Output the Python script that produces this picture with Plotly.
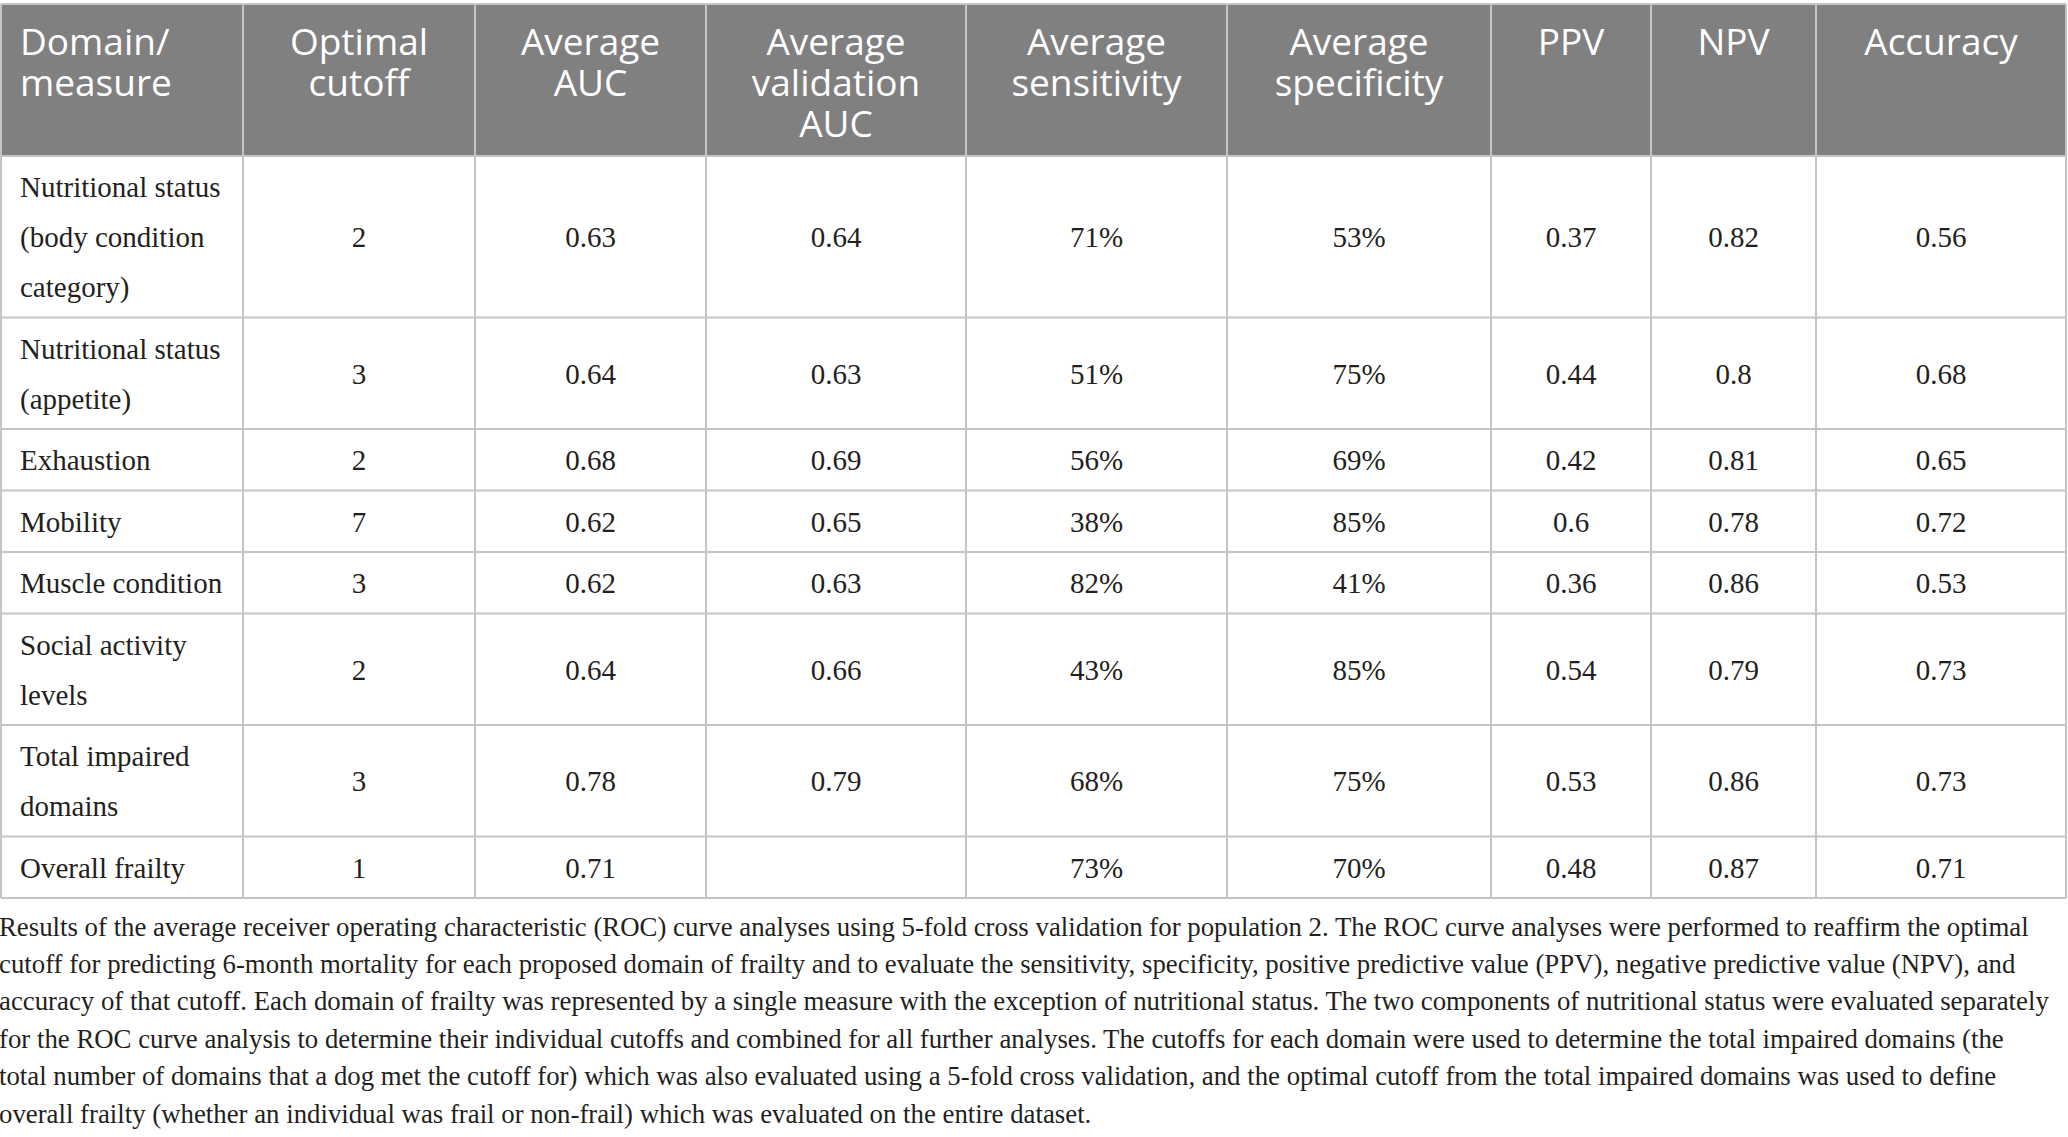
import plotly.graph_objects as go

# ---------------- data ----------------
header_labels = [
    ["Domain/", "measure"],
    ["Optimal", "cutoff"],
    ["Average", "AUC"],
    ["Average", "validation", "AUC"],
    ["Average", "sensitivity"],
    ["Average", "specificity"],
    ["PPV"],
    ["NPV"],
    ["Accuracy"],
]
measures = [
    ["Nutritional status", "(body condition", "category)"],
    ["Nutritional status", "(appetite)"],
    ["Exhaustion"],
    ["Mobility"],
    ["Muscle condition"],
    ["Social activity", "levels"],
    ["Total impaired", "domains"],
    ["Overall frailty"],
]
optimal_cutoff = ["2", "3", "2", "7", "3", "2", "3", "1"]
average_auc = ["0.63", "0.64", "0.68", "0.62", "0.62", "0.64", "0.78", "0.71"]
validation_auc = ["0.64", "0.63", "0.69", "0.65", "0.63", "0.66", "0.79", ""]
sensitivity = ["71%", "51%", "56%", "38%", "82%", "43%", "68%", "73%"]
specificity = ["53%", "75%", "69%", "85%", "41%", "85%", "75%", "70%"]
ppv = ["0.37", "0.44", "0.42", "0.6", "0.36", "0.54", "0.53", "0.48"]
npv = ["0.82", "0.8", "0.81", "0.78", "0.86", "0.79", "0.86", "0.87"]
accuracy = ["0.56", "0.68", "0.65", "0.72", "0.53", "0.73", "0.73", "0.71"]
caption_lines = [
    "Results of the average receiver operating characteristic (ROC) curve analyses using 5-fold cross validation for population 2. The ROC curve analyses were performed to reaffirm the optimal",
    "cutoff for predicting 6-month mortality for each proposed domain of frailty and to evaluate the sensitivity, specificity, positive predictive value (PPV), negative predictive value (NPV), and",
    "accuracy of that cutoff. Each domain of frailty was represented by a single measure with the exception of nutritional status. The two components of nutritional status were evaluated separately",
    "for the ROC curve analysis to determine their individual cutoffs and combined for all further analyses. The cutoffs for each domain were used to determine the total impaired domains (the",
    "total number of domains that a dog met the cutoff for) which was also evaluated using a 5-fold cross validation, and the optimal cutoff from the total impaired domains was used to define",
    "overall frailty (whether an individual was frail or non-frail) which was evaluated on the entire dataset.",
]

# ---------------- layout geometry ----------------
W, H = 2068, 1137
col_edges = [1, 243, 475, 706, 966, 1227, 1491, 1651, 1816, 2066]
table_top = 4
header_h = 152
line_gap = 50
row_pad = 11.5
header_line_gap = 41
header_first = 42
body_shift = 3
caption_first = 929
caption_gap = 37.4

HEADER_BG = "#808080"
GRID = "#c4c4c4"
TEXT = "#231f20"
SERIF = "Liberation Serif"
SANS = "Open Sans"

value_cols = [optimal_cutoff, average_auc, validation_auc, sensitivity,
              specificity, ppv, npv, accuracy]

# row boundaries
row_edges = [table_top, table_top + header_h]
for m in measures:
    row_edges.append(row_edges[-1] + row_pad + line_gap * len(m))
table_bottom = row_edges[-1]

shapes = []
shapes.append(dict(type="rect", xref="x", yref="y", x0=col_edges[0], x1=col_edges[-1],
                   y0=row_edges[0], y1=row_edges[1], fillcolor=HEADER_BG,
                   line=dict(width=0), layer="below"))
for x in col_edges:
    shapes.append(dict(type="line", xref="x", yref="y", x0=x, x1=x, y0=table_top,
                       y1=table_bottom, line=dict(color=GRID, width=2)))
for y in row_edges:
    shapes.append(dict(type="line", xref="x", yref="y", x0=col_edges[0], x1=col_edges[-1],
                       y0=y, y1=y, line=dict(color=GRID, width=2)))

fig = go.Figure()

# header text
hx, hy, ht, hp = [], [], [], []
for j, lines in enumerate(header_labels):
    for i, ln in enumerate(lines):
        if j == 0:
            hx.append(col_edges[0] + 19)
            hp.append("middle right")
        else:
            hx.append((col_edges[j] + col_edges[j + 1]) / 2)
            hp.append("middle center")
        hy.append(table_top + header_first + i * header_line_gap)
        ht.append(ln)
fig.add_trace(go.Scatter(x=hx, y=hy, text=ht, mode="text", textposition=hp,
                         textfont=dict(family=SANS, size=37, color="white", weight=400),
                         hoverinfo="skip", showlegend=False))

# body text
bx, by, bt, bp = [], [], [], []
for r, lines in enumerate(measures):
    yc = (row_edges[r + 1] + row_edges[r + 2]) / 2 + body_shift
    n = len(lines)
    for i, ln in enumerate(lines):
        bx.append(col_edges[0] + 19)
        by.append(yc + (i - (n - 1) / 2) * line_gap)
        bt.append(ln)
        bp.append("middle right")
    for c, col in enumerate(value_cols):
        bx.append((col_edges[c + 1] + col_edges[c + 2]) / 2)
        by.append(yc)
        bt.append(col[r])
        bp.append("middle center")
fig.add_trace(go.Scatter(x=bx, y=by, text=bt, mode="text", textposition=bp,
                         textfont=dict(family=SERIF, size=29, color=TEXT),
                         hoverinfo="skip", showlegend=False))

# caption
cx = [-1] * len(caption_lines)
cy = [caption_first + i * caption_gap for i in range(len(caption_lines))]
fig.add_trace(go.Scatter(x=cx, y=cy, text=caption_lines, mode="text",
                         textposition="middle right",
                         textfont=dict(family=SERIF, size=26.8, color=TEXT),
                         hoverinfo="skip", showlegend=False))

fig.update_layout(
    width=W, height=H,
    margin=dict(l=0, r=0, t=0, b=0),
    paper_bgcolor="white", plot_bgcolor="white",
    xaxis=dict(range=[0, W], visible=False, fixedrange=True),
    yaxis=dict(range=[H, 0], visible=False, fixedrange=True),
    shapes=shapes,
)
fig.write_html("out.html", config={"displayModeBar": False},
               post_script="document.body.style.margin='0px';")
